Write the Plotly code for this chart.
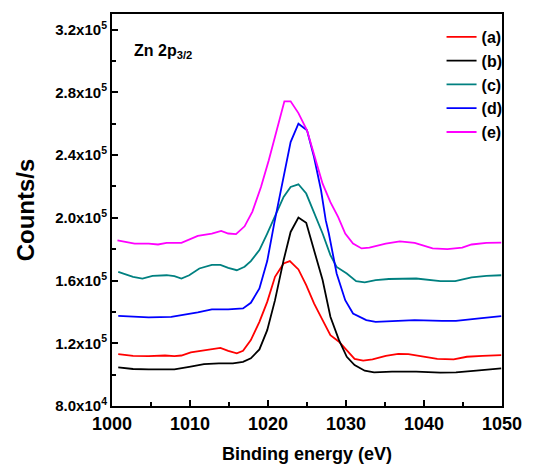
import plotly.graph_objects as go

# Binding energy (eV) and counts/s (x1e5)
a_x = [1000.8, 1002.7, 1004.7, 1006.8, 1008.0, 1008.9, 1010.1, 1011.8, 1013.9, 1014.9, 1016.0, 1016.8, 1017.8, 1018.9, 1019.9, 1020.9, 1022.0, 1022.8, 1023.9, 1024.9, 1025.9, 1027.0, 1028.0, 1029.1, 1030.1, 1031.1, 1032.2, 1033.4, 1035.1, 1036.7, 1038.0, 1040.1, 1041.7, 1043.8, 1045.5, 1047.5, 1049.9]
a_y = [1.131, 1.120, 1.118, 1.122, 1.118, 1.122, 1.142, 1.157, 1.171, 1.152, 1.136, 1.152, 1.220, 1.337, 1.464, 1.624, 1.709, 1.724, 1.671, 1.571, 1.454, 1.348, 1.252, 1.210, 1.157, 1.100, 1.089, 1.097, 1.120, 1.133, 1.131, 1.114, 1.100, 1.097, 1.114, 1.120, 1.125]

b_x = [1000.8, 1002.7, 1004.7, 1008.0, 1009.9, 1011.8, 1013.7, 1015.5, 1016.8, 1017.8, 1018.9, 1019.9, 1020.9, 1022.0, 1022.9, 1023.9, 1024.9, 1025.9, 1027.0, 1028.0, 1029.1, 1030.1, 1031.1, 1032.4, 1033.6, 1035.9, 1039.0, 1042.1, 1044.1, 1046.7, 1049.9]
b_y = [1.046, 1.036, 1.034, 1.034, 1.050, 1.067, 1.072, 1.072, 1.082, 1.104, 1.161, 1.284, 1.475, 1.730, 1.910, 2.002, 1.968, 1.794, 1.603, 1.369, 1.220, 1.114, 1.061, 1.025, 1.015, 1.019, 1.019, 1.013, 1.015, 1.025, 1.040]

c_x = [1000.8, 1002.7, 1003.9, 1005.2, 1007.0, 1008.0, 1008.9, 1009.9, 1011.2, 1012.8, 1013.9, 1014.9, 1016.0, 1017.0, 1017.8, 1018.9, 1019.9, 1020.9, 1022.0, 1022.9, 1023.9, 1024.9, 1025.9, 1027.0, 1028.0, 1028.8, 1030.1, 1031.3, 1032.4, 1033.8, 1035.5, 1039.0, 1042.1, 1044.0, 1046.1, 1048.0, 1049.9]
c_y = [1.655, 1.624, 1.613, 1.630, 1.634, 1.628, 1.613, 1.634, 1.677, 1.700, 1.700, 1.681, 1.666, 1.688, 1.724, 1.794, 1.900, 2.010, 2.133, 2.197, 2.214, 2.155, 2.038, 1.900, 1.762, 1.687, 1.645, 1.596, 1.588, 1.603, 1.610, 1.613, 1.596, 1.596, 1.620, 1.630, 1.634]

d_x = [1000.8, 1002.7, 1004.7, 1007.6, 1009.1, 1011.0, 1012.8, 1014.9, 1016.8, 1017.8, 1018.9, 1019.9, 1020.8, 1022.0, 1022.9, 1023.9, 1025.0, 1025.9, 1026.8, 1027.4, 1027.8, 1028.8, 1029.9, 1030.9, 1032.6, 1033.8, 1035.9, 1038.8, 1042.3, 1044.1, 1047.1, 1049.9]
d_y = [1.375, 1.369, 1.365, 1.369, 1.380, 1.397, 1.416, 1.416, 1.422, 1.458, 1.550, 1.724, 1.965, 2.260, 2.483, 2.600, 2.558, 2.388, 2.176, 1.985, 1.900, 1.645, 1.475, 1.390, 1.348, 1.337, 1.343, 1.348, 1.343, 1.343, 1.359, 1.373]

e_x = [1000.7, 1002.9, 1004.7, 1005.9, 1007.0, 1008.9, 1011.0, 1012.8, 1014.0, 1014.9, 1015.9, 1017.0, 1018.0, 1019.1, 1020.1, 1021.2, 1022.1, 1022.9, 1023.9, 1025.0, 1025.9, 1027.0, 1028.0, 1029.0, 1029.9, 1030.9, 1032.0, 1033.0, 1035.1, 1036.9, 1038.8, 1041.1, 1043.0, 1044.9, 1046.1, 1048.0, 1049.9]
e_y = [1.857, 1.836, 1.836, 1.830, 1.840, 1.840, 1.885, 1.900, 1.917, 1.900, 1.896, 1.946, 2.040, 2.197, 2.367, 2.580, 2.743, 2.743, 2.668, 2.558, 2.410, 2.218, 2.100, 2.005, 1.900, 1.836, 1.805, 1.810, 1.836, 1.850, 1.840, 1.805, 1.800, 1.810, 1.830, 1.840, 1.842]

series = [
    ("(a)", a_x, a_y, "#FF0000"),
    ("(b)", b_x, b_y, "#000000"),
    ("(c)", c_x, c_y, "#008080"),
    ("(d)", d_x, d_y, "#0000FF"),
    ("(e)", e_x, e_y, "#FF00FF"),
]

y_tick_vals = [0.8e5, 1.2e5, 1.6e5, 2.0e5, 2.4e5, 2.8e5, 3.2e5]
y_tick_text = ["8.0x10<sup>4</sup>", "1.2x10<sup>5</sup>", "1.6x10<sup>5</sup>", "2.0x10<sup>5</sup>",
               "2.4x10<sup>5</sup>", "2.8x10<sup>5</sup>", "3.2x10<sup>5</sup>"]
x_tick_vals = [1000, 1010, 1020, 1030, 1040, 1050]
x_tick_text = ["1000", "1010", "1020", "1030", "1040", "1050"]

FONT = "Liberation Sans, Arial, sans-serif"

fig = go.Figure()
for name, xs, ys, col in series:
    fig.add_trace(go.Scatter(
        x=xs, y=[v * 1e5 for v in ys], mode="lines", name="<b>" + name + "</b>", legendgroup=name,
        line=dict(color=col, width=1.8),
    ))

fig.update_layout(
    width=534, height=474,
    margin=dict(l=112, r=21, t=13, b=68),
    paper_bgcolor="white", plot_bgcolor="white",
    font=dict(family=FONT, size=15, color="black"),
    showlegend=True,
    legend=dict(x=0.845, y=0.985, xanchor="left", yanchor="top",
                bgcolor="rgba(0,0,0,0)", tracegroupgap=0,
                font=dict(family=FONT, size=16, color="black"),
                itemwidth=30),
    xaxis=dict(
        range=[1000, 1050], tickvals=x_tick_vals, ticktext=["<b>" + t + "</b>" for t in x_tick_text],
        ticks="inside", ticklen=6, tickwidth=1.5, tickcolor="black",
        minor=dict(dtick=5, tick0=1000, ticks="inside", ticklen=4, tickwidth=1.5, tickcolor="black"),
        showline=True, linecolor="black", linewidth=2, mirror=True,
        showgrid=False, zeroline=False,
        tickfont=dict(family=FONT, size=18, color="black"),
        title=dict(text="<b>Binding energy (eV)</b>", font=dict(family=FONT, size=18, color="black"), standoff=15),
    ),
    yaxis=dict(
        range=[0.8e5, 3.3e5], tickvals=y_tick_vals, ticktext=["<b>" + t + "</b>" for t in y_tick_text],
        ticks="inside", ticklen=6, tickwidth=1.5, tickcolor="black",
        minor=dict(dtick=0.2e5, tick0=0.8e5, ticks="inside", ticklen=4, tickwidth=1.5, tickcolor="black"),
        showline=True, linecolor="black", linewidth=2, mirror=True,
        showgrid=False, zeroline=False,
        tickfont=dict(family=FONT, size=15, color="black"),
        title=dict(text="<b>Counts/s</b>", font=dict(family=FONT, size=24, color="black"), standoff=14),
    ),
    annotations=[dict(
        x=0.05, y=0.905, xref="paper", yref="paper", xanchor="left", yanchor="middle",
        text="<b>Zn 2p<sub>3/2</sub></b>", showarrow=False, font=dict(family=FONT, size=16, color="black"),
    )],
)

fig.write_html("out.html")
